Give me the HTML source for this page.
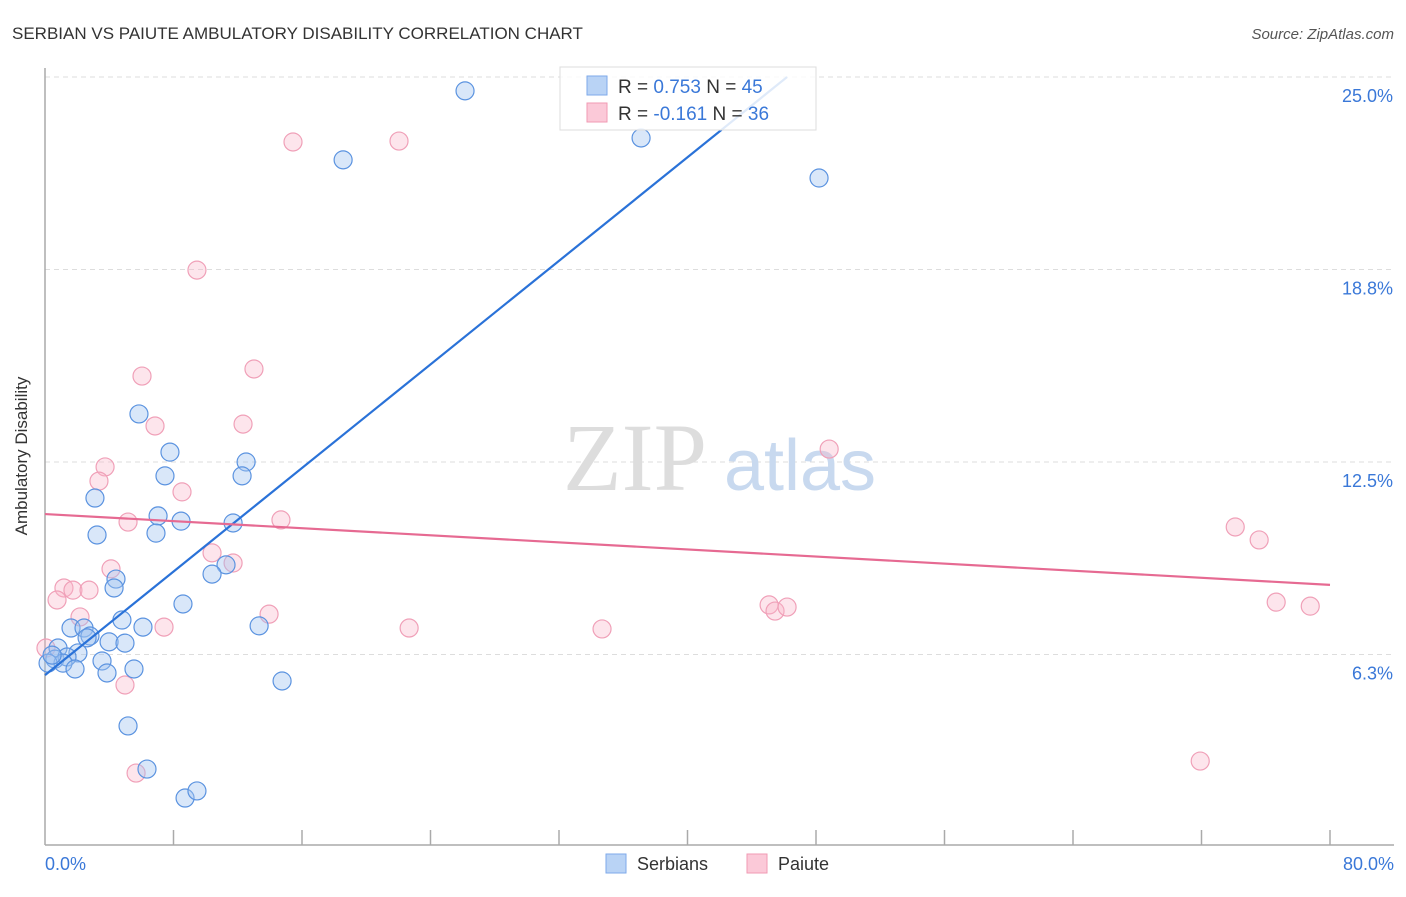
<!DOCTYPE html>
<html><head><meta charset="utf-8"><style>
body{margin:0;background:#fff;font-family:"Liberation Sans",sans-serif}
</style></head><body>
<svg width="1406" height="892" viewBox="0 0 1406 892" xmlns="http://www.w3.org/2000/svg">
<text x="12" y="39" font-size="17" fill="#333">SERBIAN VS PAIUTE AMBULATORY DISABILITY CORRELATION CHART</text>
<text x="1394" y="39" font-size="15" fill="#555" font-style="italic" text-anchor="end">Source: ZipAtlas.com</text>
<g id="grid"></g>
<text x="635" y="490" font-size="96" fill="#ddd" font-family="Liberation Serif,serif" text-anchor="middle">ZIP</text>
<text x="800" y="490" font-size="72" fill="#c8d9ef" text-anchor="middle">atlas</text>
<line x1="45" y1="68" x2="45" y2="845" stroke="#aaa" stroke-width="1.5"/>
<line x1="45" y1="845" x2="1394" y2="845" stroke="#aaa" stroke-width="1.5"/>
<g id="xticks"></g>
<text x="27" y="456" font-size="17" fill="#333" text-anchor="middle" transform="rotate(-90 27 456)">Ambulatory Disability</text>
<text x="45" y="870" font-size="18" fill="#3a78d8">0.0%</text>
<text x="1394" y="870" font-size="18" fill="#3a78d8" text-anchor="end">80.0%</text>
<g id="points"></g>
<g id="trends"></g>
<g>
<rect x="560" y="67" width="256" height="63" fill="rgba(255,255,255,0.85)" stroke="#ddd"/>
<rect x="587" y="76" width="20" height="19" fill="#b9d3f5" stroke="#7eaaea"/>
<rect x="587" y="103" width="20" height="19" fill="#fbc9d8" stroke="#f09ab3"/>
<text x="618" y="93" font-size="19" fill="#333">R = <tspan fill="#3a78d8">0.753</tspan>   N = <tspan fill="#3a78d8">45</tspan></text>
<text x="618" y="120" font-size="19" fill="#333">R = <tspan fill="#3a78d8">-0.161</tspan>   N = <tspan fill="#3a78d8">36</tspan></text>
</g>
<g>
<rect x="606" y="854" width="20" height="19" fill="#b9d3f5" stroke="#7eaaea"/>
<text x="637" y="870" font-size="18" fill="#333">Serbians</text>
<rect x="747" y="854" width="20" height="19" fill="#fbc9d8" stroke="#f09ab3"/>
<text x="778" y="870" font-size="18" fill="#333">Paiute</text>
</g>
</svg>
<script>
const yTicks=[6.25,12.5,18.75,25];
const yTickLabels=["6.3%","12.5%","18.8%","25.0%"];
const blueX=[26.15,18.56,37.11,48.19,5.85,7.78,7.47,12.52,12.27,3.11,7.04,8.47,6.91,3.24,11.71,4.42,4.30,11.27,10.40,8.59,4.79,6.10,1.62,2.43,2.80,2.62,3.99,4.98,13.33,2.05,0.81,0.62,1.37,1.12,0.19,3.55,1.87,3.86,5.54,14.76,5.17,6.35,8.72,9.46,0.44];
const blueY=[24.55,22.31,23.02,21.72,14.06,12.82,12.05,12.50,12.05,11.33,10.75,10.58,10.19,10.13,10.52,8.70,8.41,9.16,8.86,7.89,7.37,7.14,7.11,7.11,6.85,6.79,6.66,6.62,7.18,6.30,6.46,6.10,6.17,5.97,5.97,6.04,5.78,5.65,5.78,5.39,3.93,2.53,1.59,1.82,6.23];
const pinkX=[15.44,22.04,9.46,6.04,13.01,6.85,12.33,3.74,3.36,8.53,5.17,14.69,10.40,11.71,4.11,1.18,1.74,2.74,0.75,2.18,7.41,13.95,22.67,34.68,45.08,45.45,46.20,48.82,74.10,75.59,76.65,78.77,4.98,5.67,71.92,0.06];
const pinkY=[22.89,22.92,18.73,15.29,15.52,13.67,13.73,12.34,11.88,11.53,10.55,10.62,9.55,9.22,9.03,8.41,8.34,8.34,8.02,7.47,7.14,7.56,7.11,7.08,7.86,7.66,7.79,12.92,10.39,9.97,7.95,7.82,5.26,2.40,2.79,6.46];
const blueTrend=[[0,5.58],[46.2,25]];
const pinkTrend=[[0,10.81],[80,8.51]];
const NS="http://www.w3.org/2000/svg";
const sx=v=>45+v*16.0625;
const sy=v=>847-v*30.8;
function mk(t,a,p){const e=document.createElementNS(NS,t);for(const k in a)e.setAttribute(k,a[k]);p.appendChild(e);return e;}
const grid=document.getElementById('grid');
yTicks.forEach((t,i)=>{
 const l=mk('line',{x1:45,x2:1394,y1:sy(t),y2:sy(t),stroke:'#ddd','stroke-dasharray':'5,4'},grid);
 
 
 const tx=mk('text',{x:1393,y:sy(t)+25,'font-size':18,fill:'#3a78d8','text-anchor':'end'},grid);
 tx.textContent=yTickLabels[i];
 
 
});
const xt=document.getElementById('xticks');
for(let k=1;k<=10;k++){
 const l=mk('line',{x1:sx(k*8),x2:sx(k*8),y1:830,y2:845,stroke:'#aaa','stroke-width':1.5},xt);
 
 
}
const pts=document.getElementById('points');
pinkX.forEach((x,i)=>{
 const c=mk('circle',{cx:sx(x),cy:sy(pinkY[i]),r:9,fill:'rgba(248,180,200,0.35)',stroke:'#f0a0b8','stroke-width':1.2},pts);
 
 
});
blueX.forEach((x,i)=>{
 const c=mk('circle',{cx:sx(x),cy:sy(blueY[i]),r:9,fill:'rgba(160,195,240,0.4)',stroke:'#5b93e0','stroke-width':1.2},pts);
 
 
});
const tr=document.getElementById('trends');
const bl=mk('line',{x1:sx(blueTrend[0][0]),y1:sy(blueTrend[0][1]),x2:sx(blueTrend[1][0]),y2:sy(blueTrend[1][1]),stroke:'#2a72d8','stroke-width':2.2},tr);


const pl=mk('line',{x1:sx(pinkTrend[0][0]),y1:sy(pinkTrend[0][1]),x2:sx(pinkTrend[1][0]),y2:sy(pinkTrend[1][1]),stroke:'#e66a92','stroke-width':2.2},tr);


</script>
</body></html>
